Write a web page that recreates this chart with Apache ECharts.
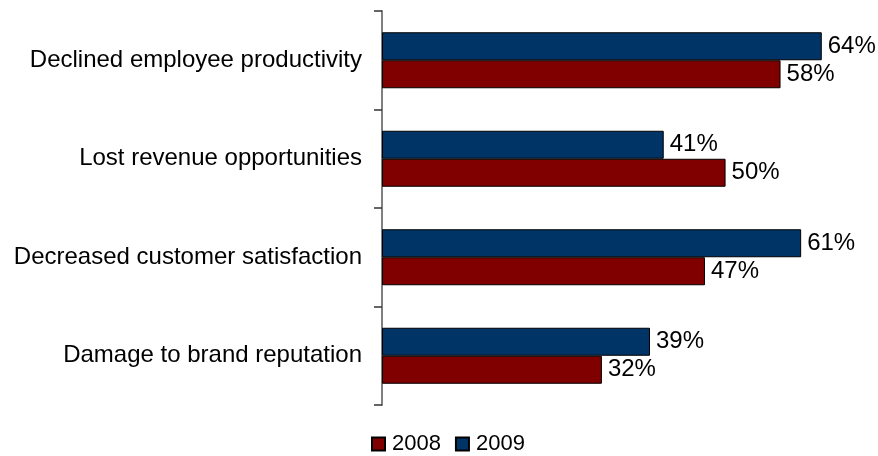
<!DOCTYPE html>
<html>
<head>
<meta charset="utf-8">
<script src="https://cdn.jsdelivr.net/npm/echarts@6/dist/echarts.min.js"></script>
<style>
  html, body { margin: 0; padding: 0; background: #fff; }
  #chart { width: 878px; height: 456px; }
</style>
</head>
<body>
<div id="chart"></div>
<script>
const categories = [
  'Declined employee productivity',
  'Lost revenue opportunities',
  'Decreased customer satisfaction',
  'Damage to brand reputation'
]
const values2008 = [58, 50, 47, 32]
const values2009 = [64, 41, 61, 39]

const FONT = 'Liberation Sans, Arial, sans-serif'
const chart = echarts.init(document.getElementById('chart'))

function makeSeries(name, data, color) {
  return {
    name,
    data,
    type: 'bar',
    barWidth: 28,
    barGap: '0%',
    itemStyle: {
      color,
      borderColor: '#000',
      borderWidth: 1
    },
    label: {
      show: true,
      position: 'right',
      distance: 6,
      formatter: '{c}%',
      color: '#000',
      fontSize: 24,
      fontFamily: FONT
    }
  }
}

const option = {
  animation: false,
  grid: {
    top: 11,
    bottom: 51,
    left: 382,
    right: 15
  },
  legend: {
    top: 428,
    left: 366,
    itemWidth: 13,
    itemHeight: 13,
    itemGap: 14,
    icon: 'rect',
    textStyle: {
      color: '#000',
      fontSize: 22,
      padding: [0, 0, 0, 2],
      fontFamily: FONT
    },
    data: ['2008', '2009']
  },
  xAxis: {
    type: 'value',
    min: 0,
    max: 70,
    show: false
  },
  yAxis: {
    type: 'category',
    inverse: true,
    data: categories,
    axisLine: {
      show: true,
      lineStyle: { color: '#808080', width: 2 }
    },
    axisTick: {
      show: true,
      alignWithLabel: false,
      length: 8,
      lineStyle: { color: '#333', width: 1.5 }
    },
    axisLabel: {
      margin: 20,
      color: '#000',
      fontSize: 24,
      fontFamily: FONT
    }
  },
  series: [
    makeSeries('2009', values2009, '#003366'),
    makeSeries('2008', values2008, '#800000')
  ]
}

chart.setOption(option)
</script>
</body>
</html>
